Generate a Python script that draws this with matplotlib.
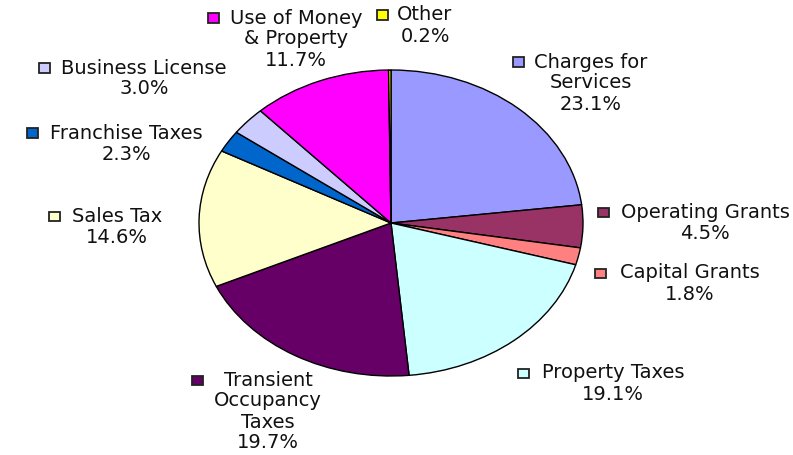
import matplotlib
matplotlib.use("Agg")
import matplotlib.pyplot as plt
from matplotlib.patches import Rectangle

# Revenue sources, clockwise from 12 o'clock
categories = [
    "Charges for\nServices",
    "Operating Grants",
    "Capital Grants",
    "Property Taxes",
    "Transient\nOccupancy\nTaxes",
    "Sales Tax",
    "Franchise Taxes",
    "Business License",
    "Use of Money\n& Property",
    "Other",
]
shares = [23.1, 4.5, 1.8, 19.1, 19.7, 14.6, 2.3, 3.0, 11.7, 0.2]
colors = [
    "#9999FF", "#993366", "#FF8080", "#CCFFFF", "#660066",
    "#FFFFCC", "#0066CC", "#CCCCFF", "#FF00FF", "#FFFF00",
]

W, H = 793, 455
fig = plt.figure(figsize=(W / 100, H / 100), dpi=100)
fig.patch.set_facecolor("white")

# Elliptical pie: the axes box is wider than tall and aspect is left free
ax = fig.add_axes([199 / W, (H - 376) / H, 384 / W, 306 / H])
wedges, _ = ax.pie(
    shares,
    colors=colors,
    startangle=90,
    counterclock=False,
    wedgeprops=dict(edgecolor="black", linewidth=1.0),
)
for w in wedges:
    w.set_clip_on(False)
ax.set_aspect("auto")
ax.set_xlim(-1, 1)
ax.set_ylim(-1, 1)
ax.axis("off")

# Label anchors in pixels: (centre x of text block, centre y of first line, key gap)
anchors = [
    (591, 62, 16), (705, 213, 17), (690, 273, 20), (613, 373, 18), (268, 380, 26),
    (117, 216, 17), (126, 133, 17), (144, 68, 17), (296, 18, 16), (425, 15, 15),
]
line_step = 21
font = dict(family="DejaVu Sans", size=14, color="#111111")

first_lines = []
for cat, val, (x, y, _) in zip(categories, shares, anchors):
    lines = cat.split("\n") + [f"{val:.1f}%"]
    for i, line in enumerate(lines):
        t = fig.text(x / W, 1 - (y + i * line_step) / H, line,
                     ha="center", va="center", **font)
        if i == 0:
            first_lines.append(t)

fig.canvas.draw()
renderer = fig.canvas.get_renderer()

# Legend key square to the left of each label's first line
mw, mh = 11, 9
for t, col, (x, y, gap) in zip(first_lines, colors, anchors):
    bb = t.get_window_extent(renderer)
    cx = bb.x0 - gap
    cy = H - y
    fig.add_artist(Rectangle(((cx - mw / 2) / W, (cy - mh / 2) / H), mw / W, mh / H,
                             transform=fig.transFigure, facecolor=col,
                             edgecolor="#222222", linewidth=1.3))

fig.savefig("out.png", dpi=100, facecolor="white")
